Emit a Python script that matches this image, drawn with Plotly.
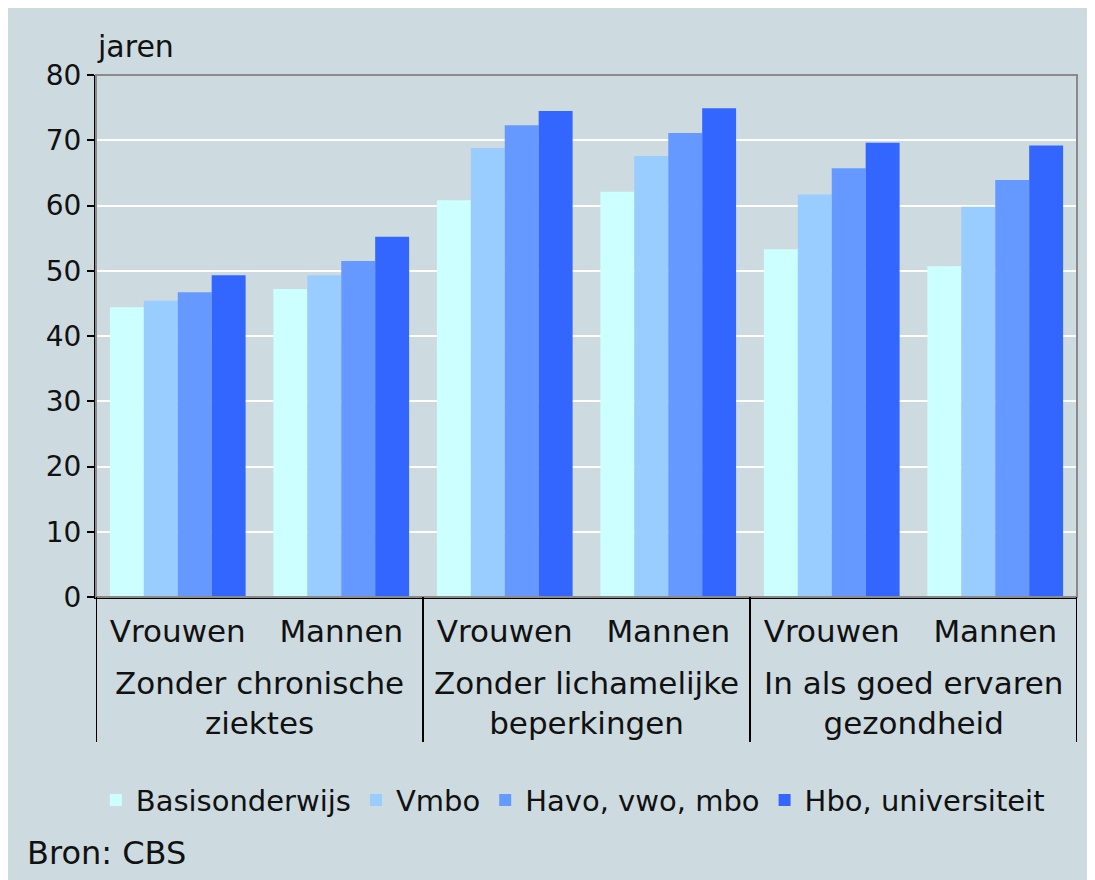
import plotly.graph_objects as go

# categories
groups = ["Zonder chronische<br>ziektes", "Zonder lichamelijke<br>beperkingen", "In als goed ervaren<br>gezondheid"]
sexes = ["Vrouwen", "Mannen"]
series_names = ["Basisonderwijs", "Vmbo", "Havo, vwo, mbo", "Hbo, universiteit"]

# values (jaren), order: groups x sexes
basisonderwijs = [44.4, 47.2, 60.8, 62.1, 53.3, 50.7]
vmbo = [45.4, 49.3, 68.8, 67.6, 61.7, 59.8]
havo_vwo_mbo = [46.7, 51.5, 72.3, 71.1, 65.7, 63.9]
hbo_universiteit = [49.3, 55.2, 74.5, 74.9, 69.6, 69.2]

colors = ["#CCFFFF", "#99CCFF", "#6699FF", "#3366FF"]
BG = "#CDDBE0"
FONT = "DejaVu Sans"

# one unique category per (group, sex) pair, labelled only with the sex
keys = [f"{gi}|{s}" for gi in range(len(groups)) for s in sexes]
tick_labels = [s for g in groups for s in sexes]

fig = go.Figure()
for name, vals, col in zip(series_names, [basisonderwijs, vmbo, havo_vwo_mbo, hbo_universiteit], colors):
    fig.add_trace(go.Bar(x=keys, y=vals, name=name,
                         marker=dict(color=col, line=dict(width=0))))

# grey frame of plot area (top / right)
fig.add_shape(type="rect", xref="paper", yref="paper", x0=0, x1=1, y0=0, y1=1,
              line=dict(color="#8A8A8A", width=2), layer="above")

# group dividers and group labels below the axis
n = len(sexes)
for i in range(len(groups) + 1):
    fig.add_shape(type="line", xref="x", yref="paper", x0=i * n - 0.5, x1=i * n - 0.5,
                  y0=0, y1=-0.278, line=dict(color="black", width=2))
annotations = []
for i, g in enumerate(groups):
    annotations.append(dict(text=g, xref="x", yref="paper", x=i * n + (n - 1) / 2, y=-0.203,
                            xanchor="center", yanchor="middle", showarrow=False,
                            font=dict(size=31)))
annotations += [
    dict(text="jaren", xref="paper", yref="paper", x=-0.001, y=1.054, xanchor="left", yanchor="middle",
         showarrow=False, font=dict(size=30)),
    dict(text="Bron: CBS", xref="paper", yref="paper", x=-0.0724, y=-0.49, xanchor="left", yanchor="middle",
         showarrow=False, font=dict(size=32)),
]

fig.update_layout(
    width=1095, height=880,
    margin=dict(l=88, r=26, t=67, b=291),
    paper_bgcolor=BG, plot_bgcolor=BG,
    barmode="group", bargap=0.17, bargroupgap=0,
    font=dict(family=FONT, size=27, color="#111111"),
    showlegend=True,
    legend=dict(orientation="h", x=0.486, xanchor="center", y=-0.389, yanchor="middle",
                bgcolor="rgba(0,0,0,0)", font=dict(size=29),
                itemwidth=30, traceorder="normal"),
    annotations=annotations,
)
fig.update_yaxes(range=[0, 80], dtick=10, showgrid=True, gridcolor="white", gridwidth=2,
                 showline=True, linecolor="black", linewidth=2, ticks="outside", ticklen=7,
                 tickcolor="black", tickwidth=2, zeroline=False, tickfont=dict(size=28))
fig.update_xaxes(type="category", tickvals=keys, ticktext=tick_labels, showline=True,
                 linecolor="black", linewidth=2, ticks="", ticklabelstandoff=6,
                 tickfont=dict(size=31), range=[-0.5, len(keys) - 0.5])

fig.write_html("out.html")
